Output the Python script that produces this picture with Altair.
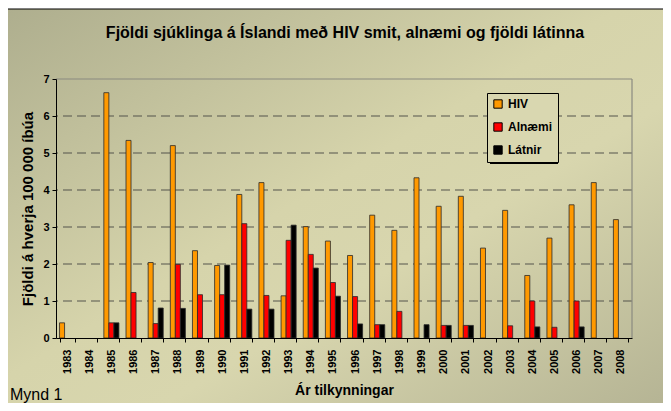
import altair as alt
import pandas as pd

years = [str(y) for y in range(1983, 2009)]
hiv = [0.41, 0, 6.63, 5.34, 2.04, 5.20, 2.36, 1.96, 3.88, 4.20, 1.14, 3.01, 2.62,
       2.23, 3.32, 2.91, 4.33, 3.56, 3.83, 2.43, 3.45, 1.69, 2.70, 3.60, 4.20, 3.20]
alnaemi = [0, 0, 0.41, 1.23, 0.39, 1.99, 1.17, 1.17, 3.09, 1.15, 2.64, 2.26, 1.50,
           1.12, 0.36, 0.72, 0, 0.34, 0.34, 0, 0.33, 1.00, 0.29, 1.00, 0, 0]
latnir = [0, 0, 0.41, 0, 0.81, 0.80, 0, 1.97, 0.78, 0.78, 3.05, 1.89, 1.13,
          0.38, 0.36, 0, 0.36, 0.34, 0.34, 0, 0, 0.30, 0, 0.30, 0, 0]
series = ["HIV", "Alnæmi", "Látnir"]
colors = ["#FF9900", "#FF0000", "#000000"]
tick_values = [0, 1, 2, 3, 4, 5, 6, 7]
grid_values = [1, 2, 3, 4, 5, 6]
title_text = "Fjöldi sjúklinga á Íslandi með HIV smit, alnæmi og fjöldi látinna"
y_title = "Fjöldi á hverja 100 000 íbúa"
x_title = "Ár tilkynningar"
caption = "Mynd 1"

rows = []
for name, vals in zip(series, [hiv, alnaemi, latnir]):
    for yr, v in zip(years, vals):
        if v > 0:
            rows.append({"year": yr, "series": name, "value": v})
df = pd.DataFrame(rows)

W, H = 576, 259
FONT = "Liberation Sans"
one = pd.DataFrame({"a": [0]})

y_axis = alt.Axis(title=y_title, values=tick_values, labelFont=FONT, labelFontSize=11,
                  labelFontWeight="bold", labelColor="#000000", labelPadding=3, tickSize=4,
                  labelOverlap=False, tickColor="#000000", domainColor="#000000",
                  titleFont=FONT, titleFontSize=15, titleFontWeight="bold", titleColor="#000000",
                  titlePadding=7, zindex=1, grid=False)
y_scale = alt.Scale(domain=[0, 7])

bg = alt.Chart(one).mark_rect(
    fill=alt.Gradient(gradient="linear", x1=0, y1=0, x2=1, y2=1,
                      stops=[alt.GradientStop(color="#aeae8e", offset=0),
                             alt.GradientStop(color="#d6d4ab", offset=0.45),
                             alt.GradientStop(color="#d8d6ae", offset=0.6),
                             alt.GradientStop(color="#b2b192", offset=1)]),
    stroke="#000000", strokeWidth=1.2
).encode(x=alt.value(-51), x2=alt.value(630), y=alt.value(-70), y2=alt.value(340))

grid = alt.Chart(pd.DataFrame({"value": grid_values})).mark_rule(
    color="#55554c", strokeWidth=1.2, strokeDash=[9, 5]
).encode(y=alt.Y("value:Q", scale=y_scale, axis=y_axis))

border_top = alt.Chart(one).mark_rule(color="#8a8a80", strokeWidth=1.2).encode(
    x=alt.value(0), x2=alt.value(W), y=alt.value(0))
border_right = alt.Chart(one).mark_rule(color="#8a8a80", strokeWidth=1.2).encode(
    x=alt.value(W), y=alt.value(0), y2=alt.value(H))

shadow = alt.Chart(one).mark_rect(color="#000000").encode(
    x=alt.value(434), x2=alt.value(502), y=alt.value(17), y2=alt.value(85))

bars = alt.Chart(df).mark_bar(stroke="#2a2a2a", strokeWidth=0.8).encode(
    x=alt.X("year:N", sort=years, scale=alt.Scale(domain=years, paddingInner=0.32, paddingOuter=0.16),
            axis=alt.Axis(title=x_title, labelAngle=270, labelFont=FONT, labelFontSize=11,
                          labelFontWeight="bold", labelColor="#000000", labelPadding=7,
                          tickBand="extent", tickSize=4, tickColor="#000000", domainColor="#000000",
                          titleFont=FONT, titleFontSize=14, titleFontWeight="bold", titleColor="#000000",
                          titleX=288, titleY=56, titleBaseline="alphabetic", titleAlign="center",
                          titleAnchor="start", zindex=1, grid=False)),
    xOffset=alt.XOffset("series:N", sort=series, scale=alt.Scale(domain=series, paddingInner=0, paddingOuter=0)),
    y=alt.Y("value:Q", scale=y_scale, axis=y_axis),
    color=alt.Color("series:N", sort=series, scale=alt.Scale(domain=series, range=colors),
                    legend=alt.Legend(title=None, orient="none", legendX=431, legendY=14, padding=5,
                                      labelFont=FONT, labelFontSize=12, labelFontWeight="bold",
                                      labelColor="#000000", symbolType="square", symbolSize=70,
                                      symbolStrokeColor="#000000", symbolStrokeWidth=1, symbolOpacity=1,
                                      rowPadding=9, strokeColor="#000000", fillColor="#d9d7b0",
                                      labelOffset=4)),
)

cap = alt.Chart(pd.DataFrame({"t": [caption]})).mark_text(
    font=FONT, fontSize=16, color="#000000", align="left", baseline="alphabetic"
).encode(text="t:N", x=alt.value(-46), y=alt.value(H + 62))

ttl = alt.Chart(pd.DataFrame({"t": [title_text]})).mark_text(
    font=FONT, fontSize=16, fontWeight="bold", color="#000000", align="center", baseline="alphabetic"
).encode(text="t:N", x=alt.value(289), y=alt.value(-41))

chart = alt.layer(bg, grid, border_top, border_right, shadow, bars, cap, ttl).properties(
    width=W, height=H,
    autosize=alt.AutoSizeParams(type="none"),
    padding={"left": 48, "top": 71, "right": 31, "bottom": 65},
    background="#ffffff",
).configure_view(stroke=None)

chart.save("out.html", embed_options={"renderer": "svg", "actions": False})
